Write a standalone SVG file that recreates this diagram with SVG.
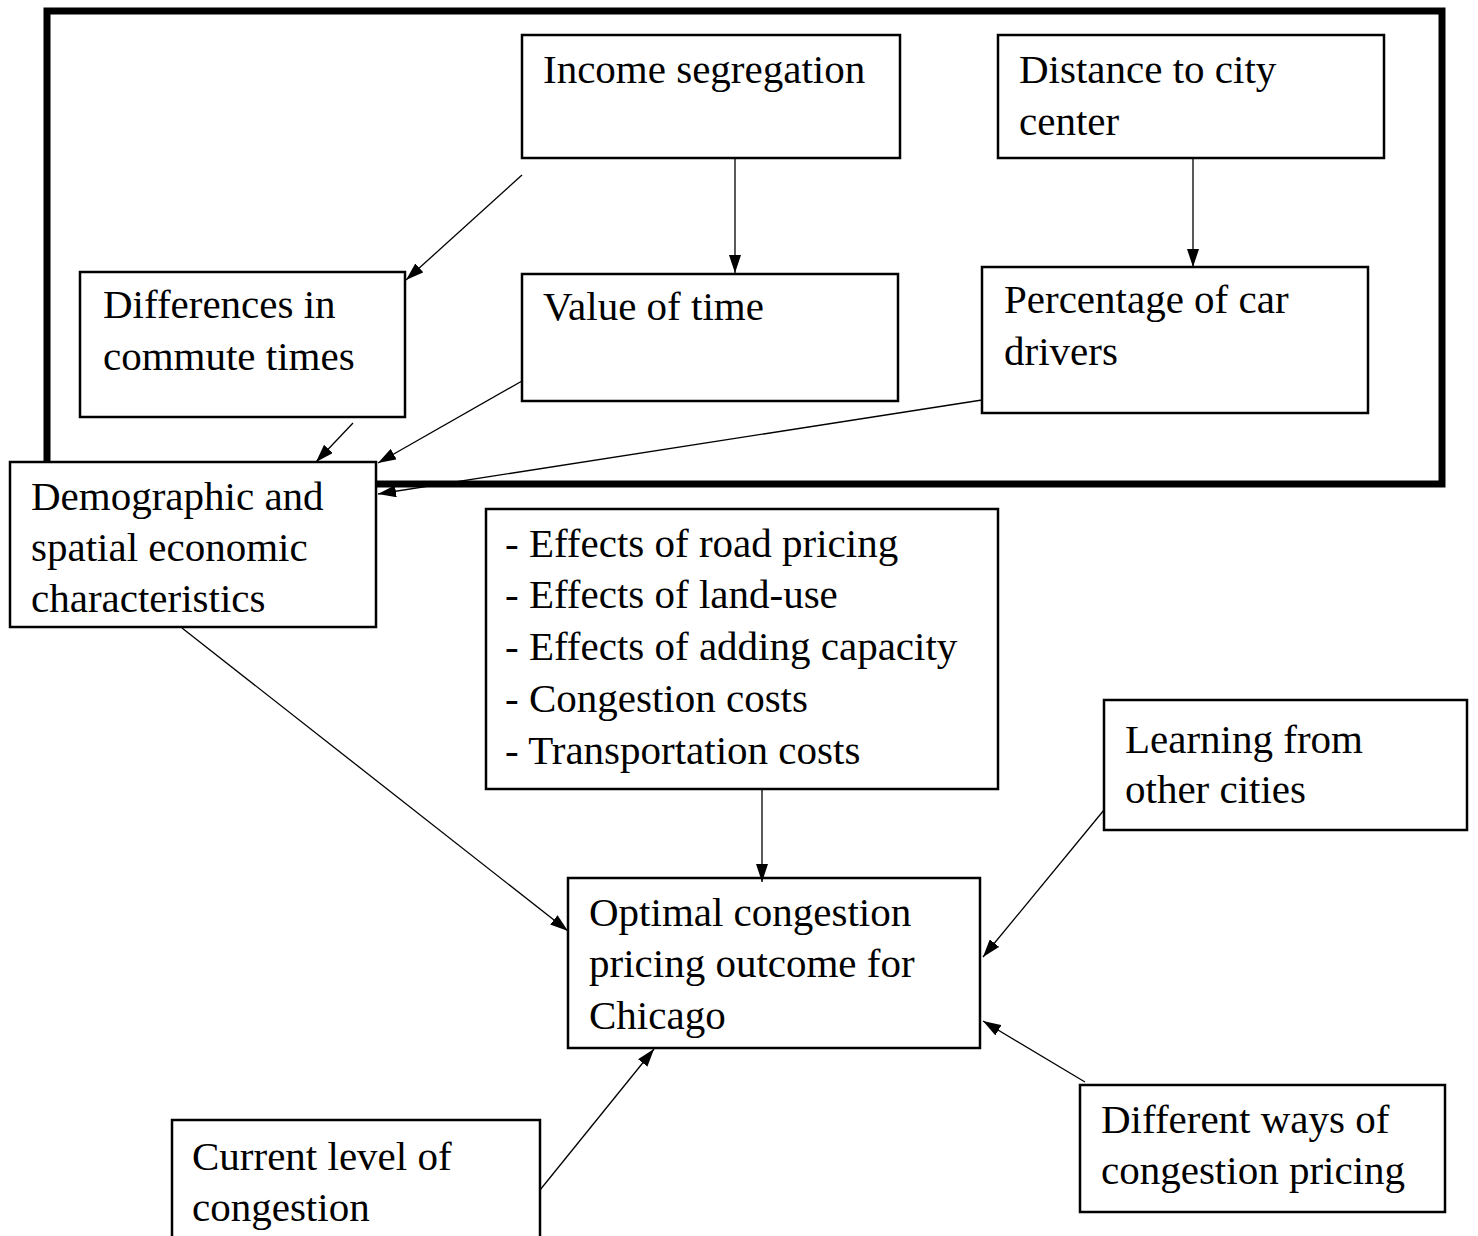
<svg xmlns="http://www.w3.org/2000/svg" width="1478" height="1236" viewBox="0 0 1478 1236">
<style>
.box{fill:#fff;stroke:#000;stroke-width:2.5}
.t{font-family:"Liberation Serif","Times New Roman",serif;font-size:41px;fill:#000}
.c{stroke:#000;stroke-width:1.3;fill:none;marker-end:url(#ah)}
</style>
<defs>
<marker id="ah" markerUnits="userSpaceOnUse" markerWidth="18" markerHeight="12" refX="18" refY="6" orient="auto">
<path d="M0,0 L18,6 L0,12 z" fill="#000"/>
</marker>
</defs>
<rect width="1478" height="1236" fill="#fff"/>
<rect id="frame" x="47" y="11" width="1395" height="473" fill="none" stroke="#000" stroke-width="7"/>
<g id="n-income"><rect class="box" x="522" y="35" width="378" height="123"/><text class="t" x="543" y="83">Income segregation</text></g>
<g id="n-distance"><rect class="box" x="998" y="35" width="386" height="123"/><text class="t" x="1019" y="83">Distance to city</text><text class="t" x="1019" y="135">center</text></g>
<g id="n-diff"><rect class="box" x="80" y="272" width="325" height="145"/><text class="t" x="103" y="318">Differences in</text><text class="t" x="103" y="370">commute times</text></g>
<g id="n-value"><rect class="box" x="522" y="274" width="376" height="127"/><text class="t" x="543" y="320">Value of time</text></g>
<g id="n-pct"><rect class="box" x="982" y="267" width="386" height="146"/><text class="t" x="1004" y="313">Percentage of car</text><text class="t" x="1004" y="365">drivers</text></g>
<g id="n-demo"><rect class="box" x="10" y="462" width="366" height="165"/><text class="t" x="31" y="510">Demographic and</text><text class="t" x="31" y="561">spatial economic</text><text class="t" x="31" y="612">characteristics</text></g>
<g id="n-effects"><rect class="box" x="486" y="509" width="512" height="280"/><text class="t" x="505" y="557">- Effects of road pricing</text><text class="t" x="505" y="608">- Effects of land-use</text><text class="t" x="505" y="660">- Effects of adding capacity</text><text class="t" x="505" y="712">- Congestion costs</text><text class="t" x="505" y="764">- Transportation costs</text></g>
<g id="n-learning"><rect class="box" x="1104" y="700" width="363" height="130"/><text class="t" x="1125" y="753">Learning from</text><text class="t" x="1125" y="803">other cities</text></g>
<g id="n-optimal"><rect class="box" x="568" y="878" width="412" height="170"/><text class="t" x="589" y="926">Optimal congestion</text><text class="t" x="589" y="977">pricing outcome for</text><text class="t" x="589" y="1029">Chicago</text></g>
<g id="n-current"><rect class="box" x="172" y="1120" width="368" height="130"/><text class="t" x="192" y="1170">Current level of</text><text class="t" x="192" y="1221">congestion</text></g>
<g id="n-ways"><rect class="box" x="1080" y="1085" width="365" height="127"/><text class="t" x="1101" y="1133">Different ways of</text><text class="t" x="1101" y="1184">congestion pricing</text></g>
<g id="connectors">
<line class="c" x1="522" y1="175" x2="406" y2="280"/>
<line class="c" x1="735" y1="158" x2="735" y2="273"/>
<line class="c" x1="1193" y1="158" x2="1193" y2="267"/>
<line class="c" x1="353" y1="423" x2="316" y2="462"/>
<line class="c" x1="522" y1="381" x2="378" y2="463"/>
<line class="c" x1="982" y1="400" x2="378" y2="494"/>
<line class="c" x1="182" y1="628" x2="568" y2="931"/>
<line class="c" x1="762" y1="789" x2="762" y2="882"/>
<line class="c" x1="1104" y1="810" x2="983" y2="957"/>
<line class="c" x1="1085" y1="1082" x2="983" y2="1021"/>
<line class="c" x1="540" y1="1190" x2="654" y2="1049"/>
</g>
</svg>
